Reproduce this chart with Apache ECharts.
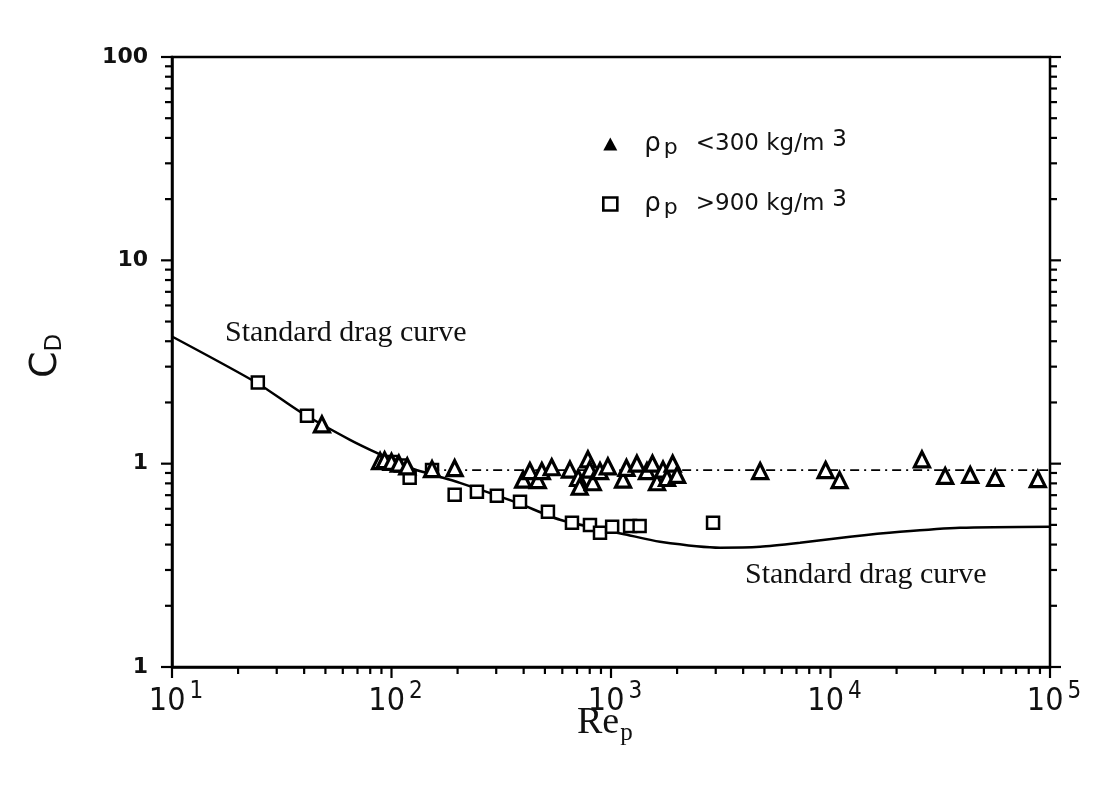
<!DOCTYPE html>
<html>
<head>
<meta charset="utf-8">
<script src="https://cdn.jsdelivr.net/npm/echarts@6/dist/echarts.min.js"></script>
<style>
html,body{margin:0;padding:0;background:#fff;}
#chart{width:1099px;height:785px;}
</style>
</head>
<body>
<div id="chart"></div>
<script>
// ---- data ----
const curveRe = [10, 24.6, 38.3, 64.7, 88.7, 121, 205, 373, 586, 1183, 1672, 3140, 4780, 7260, 12280, 20750, 38900, 100000];
const curveCd = [4.22, 2.48, 1.80, 1.31, 1.11, 0.955, 0.805, 0.643, 0.53, 0.447, 0.413, 0.386, 0.39, 0.408, 0.437, 0.462, 0.484, 0.49];

const lightRe = [48.2, 88.7, 93, 100, 108, 118, 153, 194, 398, 427, 464, 484, 537, 650, 709, 720, 785, 800, 826, 891, 968, 1135, 1176, 1312, 1458, 1545, 1620, 1726, 1800, 1910, 2000, 4780, 9500, 11000, 26100, 33300, 43300, 56300, 88000];
const lightCd = [1.56, 1.03, 1.04, 1.02, 1.0, 0.97, 0.94, 0.95, 0.834, 0.92, 0.83, 0.92, 0.96, 0.935, 0.85, 0.77, 1.05, 0.935, 0.81, 0.92, 0.97, 0.834, 0.953, 1.0, 0.92, 1.0, 0.81, 0.935, 0.85, 1.0, 0.88, 0.92, 0.93, 0.83, 1.05, 0.87, 0.88, 0.85, 0.84];

const heavyRe = [24.6, 41.2, 100, 110, 121, 153, 194, 245, 302, 385, 516, 664, 802, 891, 1012, 1222, 1350, 2917];
const heavyCd = [2.51, 1.72, 1.02, 0.98, 0.853, 0.93, 0.703, 0.727, 0.696, 0.65, 0.58, 0.512, 0.5, 0.457, 0.49, 0.494, 0.494, 0.512];

const refRe = [150, 100000];
const refCd = [0.93, 0.93];

const xTickValues = [10, 100, 1000, 10000, 100000];
const xTickExp = ['1', '2', '3', '4', '5'];
const yTickValues = [0.1, 1, 10, 100];
const yTickText = ['1', '1', '10', '100'];
const minorMultipliers = [2, 3, 4, 5, 6, 7, 8, 9];

const seriesNames = ['light', 'heavy'];
const legendLabels = [['<300 kg/m', '3'], ['>900 kg/m', '3']];
const annotationText = 'Standard drag curve';

// ---- tick items for custom axis ticks ----
const X_MIN = 10, X_MAX = 100000, Y_MIN = 0.1, Y_MAX = 100;
const MAJ = 11, MIN = 7;
const tickItems = [];
xTickValues.forEach(function (d, i) {
  tickItems.push([d, Y_MIN, 0, MAJ]);
  if (i < xTickValues.length - 1) minorMultipliers.forEach(function (m) { tickItems.push([d * m, Y_MIN, 0, MIN]); });
});
yTickValues.forEach(function (d, i) {
  tickItems.push([X_MIN, d, 1, MAJ]);
  tickItems.push([X_MAX, d, 2, MAJ]);
  if (i < yTickValues.length - 1) minorMultipliers.forEach(function (m) {
    tickItems.push([X_MIN, d * m, 1, MIN]);
    tickItems.push([X_MAX, d * m, 2, MIN]);
  });
});

function zip(a, b) { return a.map(function (v, i) { return [v, b[i]]; }); }

const SANS = '"DejaVu Sans",sans-serif';
const NARROW = '"Liberation Sans Narrow","DejaVu Sans Condensed",sans-serif';
const SERIF = '"Liberation Serif","Times New Roman",serif';

const chart = echarts.init(document.getElementById('chart'));
const option = {
  backgroundColor: '#fff',
  animation: false,
  grid: { left: 172, right: 49, top: 57, bottom: 118, show: true, borderColor: '#000', borderWidth: 2.5, backgroundColor: 'transparent' },
  xAxis: {
    type: 'log', logBase: 10, min: X_MIN, max: X_MAX,
    axisLine: { show: true, lineStyle: { color: '#000', width: 2.5 } },
    axisTick: { show: false },
    splitLine: { show: false },
    axisLabel: {
      margin: 13,
      formatter: function (v) {
        const i = Math.round(Math.log10(v)) - 1;
        return '{a|10}{b|' + xTickExp[i] + '}';
      },
      rich: {
        a: { fontFamily: NARROW, fontSize: 32, color: '#111', lineHeight: 38, verticalAlign: 'bottom', padding: [0, 0, 0, 8] },
        b: { fontFamily: NARROW, fontSize: 24, color: '#111', lineHeight: 22, verticalAlign: 'top', padding: [0, 0, 0, 4] }
      }
    }
  },
  yAxis: {
    type: 'log', logBase: 10, min: Y_MIN, max: Y_MAX,
    axisLine: { show: true, lineStyle: { color: '#000', width: 2.5 } },
    axisTick: { show: false },
    splitLine: { show: false },
    axisLabel: {
      margin: 24,
      fontFamily: SANS, fontWeight: 'bold', fontSize: 22, color: '#111',
      formatter: function (v) {
        const i = Math.round(Math.log10(v)) + 1;
        return yTickText[i];
      }
    }
  },
  legend: {
    orient: 'vertical', left: 597, top: 124, itemGap: 30,
    itemWidth: 14, itemHeight: 13,
    data: [
      { name: seriesNames[0], icon: 'triangle', itemStyle: { color: '#000', borderColor: '#000', borderWidth: 0 } },
      { name: seriesNames[1], icon: 'rect', itemStyle: { color: '#fff', borderColor: '#000', borderWidth: 2.6 } }
    ],
    formatter: function (name) {
      const l = legendLabels[seriesNames.indexOf(name)];
      return '{r|ρ}{s|p}{t|' + l[0] + '}{u|' + l[1] + '}';
    },
    textStyle: {
      padding: [0, 0, 0, 22],
      rich: {
        r: { fontFamily: SANS, fontSize: 26, color: '#111', lineHeight: 30, verticalAlign: 'middle' },
        s: { fontFamily: SANS, fontSize: 22, color: '#111', lineHeight: 14, verticalAlign: 'bottom', padding: [0, 0, 0, 3] },
        t: { fontFamily: SANS, fontSize: 23, color: '#111', lineHeight: 30, verticalAlign: 'middle', padding: [0, 0, 0, 18] },
        u: { fontFamily: SANS, fontSize: 23, color: '#111', lineHeight: 28, verticalAlign: 'top', padding: [0, 0, 0, 8] }
      }
    }
  },
  graphic: [
    { type: 'text', left: 225, top: 318, style: { text: annotationText, fontFamily: SERIF, fontSize: 30, fill: '#111' } },
    { type: 'text', left: 745, top: 560, style: { text: annotationText, fontFamily: SERIF, fontSize: 30, fill: '#111' } },
    { type: 'text', left: 577, top: 704, style: { text: '{a|Re}{b|p}', rich: {
        a: { fontFamily: SERIF, fontSize: 38, fill: '#111', lineHeight: 42, verticalAlign: 'top' },
        b: { fontFamily: SERIF, fontSize: 25, fill: '#111', lineHeight: 42, verticalAlign: 'bottom', padding: [14, 0, 0, 1] } } } },
    { type: 'text', x: 27, y: 378, rotation: Math.PI / 2, style: { text: '{a|C}{b|D}', rich: {
        a: { fontFamily: SANS, fontSize: 38, fill: '#111', lineHeight: 40, verticalAlign: 'top' },
        b: { fontFamily: SANS, fontSize: 23, fill: '#111', lineHeight: 40, verticalAlign: 'bottom', padding: [12, 0, 0, 0] } } } }
  ],
  series: [
    {
      name: 'curve', type: 'line', data: zip(curveRe, curveCd), smooth: 0.25, symbol: 'none',
      lineStyle: { color: '#000', width: 2.5 }, z: 2, silent: true
    },
    {
      name: 'ref', type: 'line', data: zip(refRe, refCd), symbol: 'none',
      lineStyle: { color: '#000', width: 1.8, type: [9, 5, 2, 5] }, z: 2, silent: true
    },
    {
      name: seriesNames[0], type: 'scatter', data: zip(lightRe, lightCd), symbol: 'triangle', symbolSize: 15,
      itemStyle: { color: '#fff', borderColor: '#000', borderWidth: 3.2, opacity: 1 }, z: 4
    },
    {
      name: seriesNames[1], type: 'scatter', data: zip(heavyRe, heavyCd), symbol: 'rect', symbolSize: 12,
      itemStyle: { color: '#fff', borderColor: '#000', borderWidth: 2.5, opacity: 1 }, z: 3
    },
    {
      name: 'ticks', type: 'custom', data: tickItems, silent: true, clip: false, z: 5,
      renderItem: function (params, api) {
        const side = api.value(2), len = api.value(3);
        const p = api.coord([api.value(0), api.value(1)]);
        let s;
        if (side === 0) s = { x1: p[0], y1: p[1], x2: p[0], y2: p[1] + len };
        else if (side === 1) s = { x1: p[0] - len, y1: p[1], x2: p[0], y2: p[1] };
        else s = { x1: p[0], y1: p[1], x2: p[0] + len, y2: p[1] };
        return { type: 'line', shape: s, style: { stroke: '#000', lineWidth: 2.2 } };
      }
    }
  ]
};
chart.setOption(option);
</script>
</body>
</html>
